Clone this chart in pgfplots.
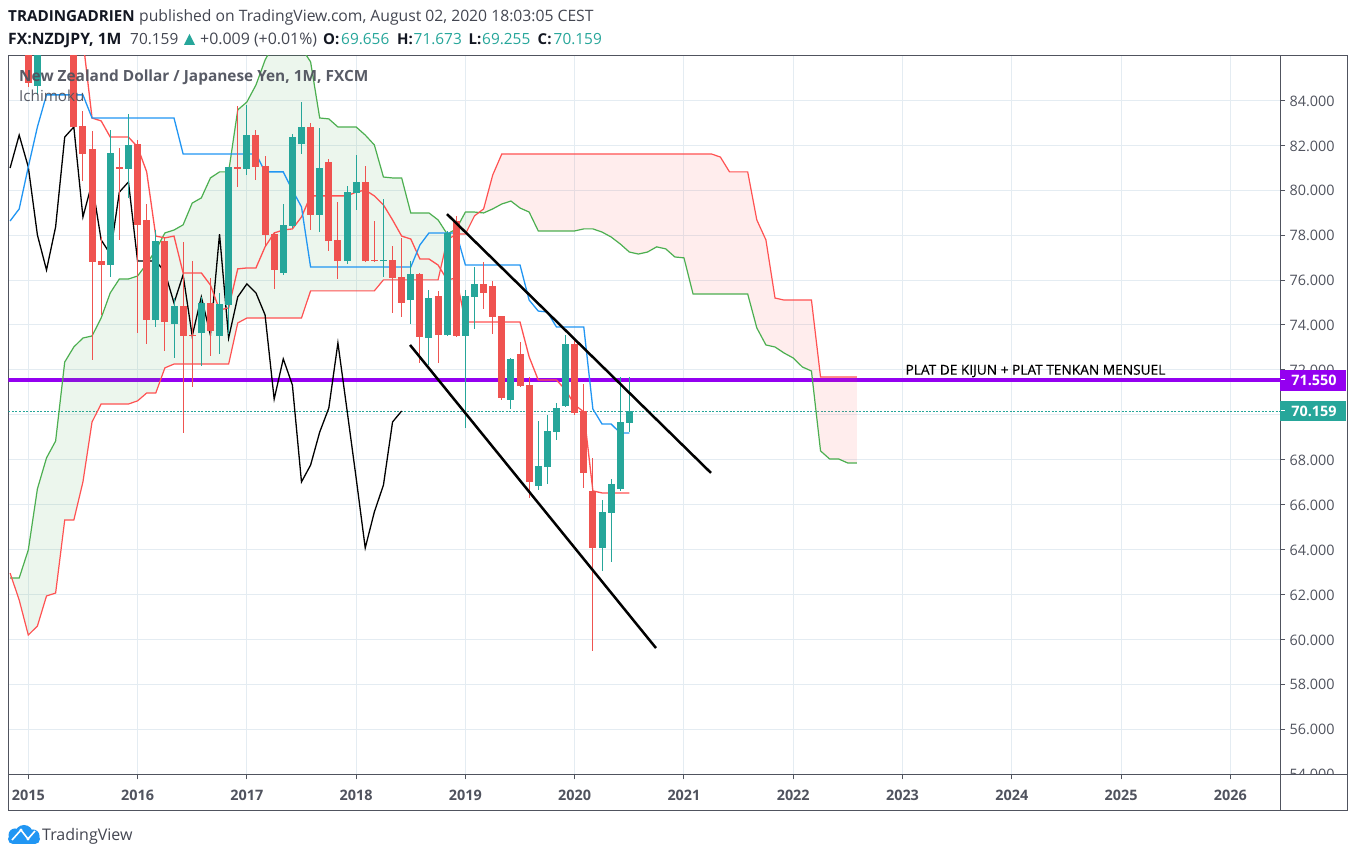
\documentclass[border=0pt]{standalone}
\usepackage{pgfplots}
\pgfplotsset{compat=1.18}
\usepackage{pgfplotstable}
\usepackage{fontspec}
\setmainfont{Open Sans}
\definecolor{tvgreen}{RGB}{38,166,154}
\definecolor{tvred}{RGB}{239,83,80}
\definecolor{tvline}{RGB}{80,83,94}
\definecolor{tvgrid}{RGB}{228,236,242}
\definecolor{tvblue}{RGB}{33,150,243}
\definecolor{tvlinered}{RGB}{255,82,82}
\definecolor{tvlinegreen}{RGB}{76,175,80}
\definecolor{tvpurple}{RGB}{148,0,240}
\definecolor{tvtext}{RGB}{67,70,81}
\definecolor{tvdark}{RGB}{19,23,34}
\newcommand{\fs}[1]{\fontsize{#1}{#1}\selectfont}

\pgfplotstableread{
m high low top bot
1 88 84.25 87.5 84.65
9 82.69 76.14 81.66 76.67
11 83.40 79.66 82.02 80.95
14 78.23 73.91 77.74 74.22
16 75.20 72.53 74.85 74.05
19 75.25 72.17 74.98 73.64
21 75.43 72.71 74.94 73.51
22 81.04 73.60 81.04 74.89
24 83.80 80.68 82.46 80.95
28 79.39 76.23 78.46 76.32
29 82.51 78.32 82.37 78.41
30 83.93 81.62 82.82 82.06
32 82.78 78.14 80.99 78.90
35 80.19 76.72 79.92 76.85
36 81.57 79.12 80.37 79.88
39 79.61 76.14 76.90 76.85
42 76.85 74.05 76.27 75.11
44 75.56 72.22 75.20 73.42
46 78.19 73.51 78.10 73.55
48 75.56 69.41 75.29 73.51
49 76.58 73.82 75.83 75.25
53 72.53 70.26 72.49 70.66
56 69.72 66.65 67.72 66.83
57 69.99 66.92 69.28 67.68
58 70.53 68.88 70.30 69.23
59 73.55 70.35 73.15 70.39
63 66.21 63.04 65.67 64.07
64 67.14 63.44 66.92 65.63
65 71.68 66.61 69.68 66.70
66 71.673 69.255 70.159 69.656
}\upcandles

\pgfplotstableread{
m high low top bot
0 88 84.60 87.5 84.78
5 88 82.80 87.5 82.82
6 83.53 80.41 82.86 81.62
7 82.64 72.44 81.84 76.81
8 77.92 74.45 76.85 76.67
10 81.88 77.79 81.04 80.95
12 82.24 73.64 82.06 78.46
13 79.39 73.15 78.68 74.22
15 77.92 72.84 77.74 74.13
17 77.70 69.19 74.85 73.51
18 76.85 71.24 73.55 73.51
20 76.09 72.62 74.98 73.73
23 83.76 80.15 81.04 80.95
25 82.69 80.46 82.46 81.04
26 81.53 77.48 81.08 78.01
27 78.14 75.60 78.05 76.45
31 83.00 78.23 82.82 78.90
33 81.39 77.30 81.26 77.74
34 79.48 76.05 77.79 76.85
37 81.08 76.81 80.37 76.85
38 78.63 76.81 76.90 76.85
40 77.52 74.54 76.90 76.09
41 77.88 74.36 76.14 74.98
43 76.32 72.31 76.27 73.47
45 75.52 72.31 75.29 73.55
47 78.86 73.47 78.63 73.51
50 76.81 74.71 75.83 75.43
51 75.96 73.60 75.74 74.36
52 74.40 70.66 74.40 70.75
54 73.24 71.24 72.71 71.28
55 71.68 66.30 71.33 67.01
60 73.38 69.99 73.15 70.08
61 71.37 66.74 70.17 67.41
62 68.08 59.48 66.61 64.07
}\downcandles

\pgfplotstableread{
m v
-2 80.99
-1 82.46
0 81.04
1 78.01
2 76.45
3 78.37
4 82.37
5 82.82
6 78.81
7 80.33
8 77.79
9 77.16
10 79.92
11 80.37
12 76.85
13 76.85
14 76.85
15 76.36
16 74.98
17 76.23
18 73.51
19 75.25
20 73.55
21 78.05
22 73.42
23 75.25
24 75.83
25 75.43
26 74.45
27 70.70
28 72.49
29 71.33
30 67.01
31 67.76
32 69.23
33 70.30
34 73.20
35 70.21
36 67.19
37 64.07
38 65.67
39 66.87
40 69.68
41 70.17
}\lagging

\pgfplotstableread{
m v
-2 78.63
-1 79.17
0 81.04
1 82.82
2 84.25
6 84.25
7 83.22
16 83.22
17 81.62
25 81.62
26 80.82
28 80.82
29 80.01
30 79.26
31 76.58
42 76.58
43 77.56
44 78.10
47 78.10
48 76.67
54 76.67
55 75.11
56 74.62
57 74.58
58 73.91
61 73.91
62 70.26
63 69.59
64 69.59
65 69.19
66 69.19
}\conversion

\pgfplotstableread{
m v
6 86.70
7 83.22
8 83.09
9 82.37
11 82.37
12 81.93
13 80.82
14 77.96
15 77.88
16 77.96
17 76.32
19 76.32
20 75.78
21 74.67
22 74.76
23 76.50
24 76.54
25 76.54
26 77.48
27 78.10
28 78.23
29 78.28
30 78.81
31 79.75
35 79.75
36 79.92
37 80.01
38 79.75
39 79.35
40 78.68
41 77.96
42 77.83
43 76.94
44 76.94
45 76.67
46 76.01
47 76.09
48 74.13
54 74.13
55 72.58
56 71.55
58 71.55
59 71.11
60 70.44
61 70.13
62 66.61
63 66.52
66 66.52
}\kijun

\pgfplotstableread{
m v
-2 62.73
-1 62.73
0 63.98
1 66.70
2 68.08
3 68.83
4 72.35
5 73.02
6 73.42
7 73.51
8 74.31
9 75.43
10 76.05
11 76.05
12 76.18
13 76.72
14 77.34
15 78.10
16 78.23
17 78.46
18 79.43
19 79.66
20 80.55
21 80.82
22 80.82
23 83.58
24 83.93
25 84.69
26 85.80
27 86.56
28 86.70
29 86.70
30 86.34
31 85.72
32 83.22
33 83.18
34 82.82
35 82.82
36 82.82
37 82.46
38 82.02
39 80.59
40 80.55
41 80.55
42 78.99
43 78.99
44 78.99
45 78.68
46 78.05
47 78.28
48 79.03
49 79.03
50 78.99
51 79.17
52 79.39
53 79.52
54 79.21
55 79.03
56 78.19
60 78.19
61 78.28
62 78.28
63 78.14
64 77.92
65 77.61
66 77.25
67 77.16
68 77.25
69 77.48
70 77.39
71 77.03
72 76.99
73 75.38
79 75.38
80 73.87
81 73.11
82 73.02
83 72.75
84 72.53
85 72.13
86 71.95
87 68.39
88 68.03
89 68.03
90 67.85
91 67.85
}\spanA

\pgfplotstableread{
m v
-2 62.95
-1 61.75
0 60.19
1 60.59
2 61.93
3 62.06
4 65.31
5 65.31
6 67.01
7 69.68
8 70.48
11 70.48
12 70.62
13 70.97
14 70.97
15 72.09
16 72.26
22 72.26
23 74.09
24 74.31
30 74.31
31 75.52
38 75.52
39 76.01
45 76.01
46 77.79
47 78.05
48 78.05
49 78.86
50 79.17
51 80.68
52 81.62
75 81.62
76 81.48
77 80.82
79 80.82
80 78.68
81 77.79
82 75.20
83 75.11
86 75.11
87 71.68
91 71.68
}\spanB

\begin{document}
\begin{tikzpicture}[x=1pt,y=1pt]
\path[use as bounding box,fill=white] (0,0) rectangle (1356,858);
\begin{axis}[
  at={(8.5pt,83pt)},anchor=south west,
  scale only axis,width=1272pt,height=719.5pt,
  xmin=-2.174,xmax=137.51,ymin=53.956,ymax=86.004,
  xtick={0,12,24,36,48,60,72,84,96,108,120,132},
  xticklabels={2015,2016,2017,2018,2019,2020,2021,2022,2023,2024,2025,2026},
  ytick={54,56,58,60,62,64,66,68,70,72,74,76,78,80,82,84},
  scaled y ticks=false,
  xtick pos=bottom,ytick pos=right,yticklabel pos=right,
  tick align=outside,major tick length=4.5pt,
  tick style={color=tvline,line width=1pt},
  axis line style={color=tvline,line width=1pt},
  grid=major,grid style={color=tvgrid,line width=1pt},
  xticklabel style={font=\bfseries\fs{14.4},text=tvline,yshift=-8pt,inner sep=2pt},
  yticklabel style={font=\fs{14.4},text=tvline,xshift=1pt,yshift=-0.6pt,
    /pgf/number format/.cd,fixed,fixed zerofill,precision=3,1000 sep={},assume math mode=true},
]
% last price and horizontal line
\addplot[color=tvpurple,line width=3.5pt,forget plot] coordinates {(-2.174,71.55) (137.51,71.55)};
\addplot[color=tvgreen,line width=1pt,dash pattern=on 2pt off 1.5pt,forget plot] coordinates {(-2.174,70.159) (137.51,70.159)};
% cloud fills: span A one way, span B the other way
\addplot[fill=tvlinegreen,fill opacity=0.1,draw=none,forget plot] coordinates {
(-2,62.73)(-1,62.73)(0,63.98)(1,66.70)(2,68.08)(3,68.83)(4,72.35)(5,73.02)(6,73.42)(7,73.51)(8,74.31)(9,75.43)(10,76.05)(11,76.05)(12,76.18)(13,76.72)(14,77.34)(15,78.10)(16,78.23)(17,78.46)(18,79.43)(19,79.66)(20,80.55)(21,80.82)(22,80.82)(23,83.58)(24,83.93)(25,84.69)(26,85.80)(27,86.56)(28,86.70)(29,86.70)(30,86.34)(31,85.72)(32,83.22)(33,83.18)(34,82.82)(35,82.82)(36,82.82)(37,82.46)(38,82.02)(39,80.59)(40,80.55)(41,80.55)(42,78.99)(43,78.99)(44,78.99)(45,78.68)(46,78.05)(47,78.28)(48,79.03)(49,79.03)(50,78.99)
(50,79.17)(49,78.86)(48,78.05)(47,78.05)(46,77.79)(45,76.01)(39,76.01)(38,75.52)(31,75.52)(30,74.31)(24,74.31)(23,74.09)(22,72.26)(16,72.26)(15,72.09)(14,70.97)(13,70.97)(12,70.62)(11,70.48)(8,70.48)(7,69.68)(6,67.01)(5,65.31)(4,65.31)(3,62.06)(2,61.93)(1,60.59)(0,60.19)(-1,61.75)(-2,62.95)} -- cycle;
\addplot[fill=tvlinered,fill opacity=0.1,draw=none,forget plot] coordinates {
(50,78.99)(51,79.17)(52,79.39)(53,79.52)(54,79.21)(55,79.03)(56,78.19)(60,78.19)(61,78.28)(62,78.28)(63,78.14)(64,77.92)(65,77.61)(66,77.25)(67,77.16)(68,77.25)(69,77.48)(70,77.39)(71,77.03)(72,76.99)(73,75.38)(79,75.38)(80,73.87)(81,73.11)(82,73.02)(83,72.75)(84,72.53)(85,72.13)(86,71.95)(87,68.39)(88,68.03)(89,68.03)(90,67.85)(91,67.85)
(91,71.68)(87,71.68)(86,75.11)(83,75.11)(82,75.20)(81,77.79)(80,78.68)(79,80.82)(77,80.82)(76,81.48)(75,81.62)(52,81.62)(51,80.68)(50,79.17)} -- cycle;
\addplot[color=tvlinegreen,line width=1.2pt,forget plot] table[x=m,y=v] {\spanA};
\addplot[color=tvlinered,line width=1.2pt,forget plot] table[x=m,y=v] {\spanB};
% ichimoku lines
\addplot[color=black,line width=1.3pt,forget plot] table[x=m,y=v] {\lagging};
\addplot[color=tvlinered,line width=1.3pt,forget plot] table[x=m,y=v] {\kijun};
\addplot[color=tvblue,line width=1.3pt,forget plot] table[x=m,y=v] {\conversion};
% candles: wicks then bodies
\addplot[draw=none,mark=none,forget plot,error bars/.cd,y dir=both,y explicit,error mark=none,
  error bar style={draw=tvgreen,line width=1pt}]
  table[x=m,y=top,y error plus expr=\thisrow{high}-\thisrow{top},y error minus expr=\thisrow{top}-\thisrow{low}] {\upcandles};
\addplot[draw=none,mark=none,forget plot,error bars/.cd,y dir=both,y explicit,error mark=none,
  error bar style={draw=tvred,line width=1pt}]
  table[x=m,y=top,y error plus expr=\thisrow{high}-\thisrow{top},y error minus expr=\thisrow{top}-\thisrow{low}] {\downcandles};
\addplot[draw=none,mark=none,forget plot,error bars/.cd,y dir=plus,y explicit,error mark=none,
  error bar style={draw=tvgreen,line width=7pt}]
  table[x=m,y=bot,y error plus expr=\thisrow{top}-\thisrow{bot}] {\upcandles};
\addplot[draw=none,mark=none,forget plot,error bars/.cd,y dir=plus,y explicit,error mark=none,
  error bar style={draw=tvred,line width=7pt}]
  table[x=m,y=bot,y error plus expr=\thisrow{top}-\thisrow{bot}] {\downcandles};
% trend lines
\addplot[color=black,line width=2.5pt,forget plot] coordinates {(45.98,78.94) (74.97,67.41)};
\addplot[color=black,line width=2.5pt,forget plot] coordinates {(41.92,73.11) (68.93,59.61)};
\node[font=\fs{13.7}\addfontfeatures{FakeBold=0.25},text=black,anchor=center,inner sep=0pt] at (axis cs:110.6,71.95) {PLAT DE KIJUN + PLAT TENKAN MENSUEL};
\end{axis}
% frame parts
\fill[white] (1281,47) rectangle (1347,83);
\draw[color=tvline,line width=1pt] (8.5,83) -- (8.5,47) -- (1347.5,47) -- (1347.5,802.5) -- (1280.5,802.5);
\draw[color=tvline,line width=1pt] (1280.5,83) -- (1347.5,83);
\draw[color=tvline,line width=1pt] (1280.5,47) -- (1280.5,83);
% last-value boxes
\fill[tvpurple] (1280,467) rectangle (1346,488);
\fill[tvgreen] (1280,436.5) rectangle (1346,457);
\draw[white,line width=1pt] (1281,478) -- (1285,478);
\draw[white,line width=1pt] (1281,447) -- (1285,447);
\node[font=\bfseries\fs{14.4},text=white,anchor=center,inner sep=0pt] at (1314,478) {71.550};
\node[font=\bfseries\fs{14.4},text=white,anchor=center,inner sep=0pt] at (1314,447) {70.159};
% headers
\node[anchor=base west,inner sep=0pt,font=\bfseries\fs{15.2},text=tvdark] at (8,836) {TRADINGADRIEN};
\node[anchor=base west,inner sep=0pt,font=\fs{15.7},text=tvtext] at (139,836) {published on TradingView.com, August 02, 2020 18:03:05 CEST};
\node[anchor=base west,inner sep=0pt,font=\bfseries\fs{15.7},text=tvdark] at (8,813) {FX:NZDJPY, 1M};
\node[anchor=base west,inner sep=0pt,font=\fs{15.4},text=tvtext] at (130,813) {70.159};
\fill[tvgreen] (184,813) -- (195,813) -- (189.5,824) -- cycle;
\node[anchor=base west,inner sep=0pt,font=\fs{15.9},text=tvtext] at (200,813) {+0.009 (+0.01\%)};
\node[anchor=base west,inner sep=0pt,font=\bfseries\fs{15},text=tvdark] at (323,813) {O:};
\node[anchor=base west,inner sep=0pt,font=\fs{15.4},text=tvgreen] at (341,813) {69.656};
\node[anchor=base west,inner sep=0pt,font=\bfseries\fs{15},text=tvdark] at (397,813) {H:};
\node[anchor=base west,inner sep=0pt,font=\fs{15.4},text=tvgreen] at (413.5,813) {71.673};
\node[anchor=base west,inner sep=0pt,font=\bfseries\fs{15},text=tvdark] at (468.5,813) {L:};
\node[anchor=base west,inner sep=0pt,font=\fs{15.4},text=tvgreen] at (482,813) {69.255};
\node[anchor=base west,inner sep=0pt,font=\bfseries\fs{15},text=tvdark] at (537.5,813) {C:};
\node[anchor=base west,inner sep=0pt,font=\fs{15.4},text=tvgreen] at (553.5,813) {70.159};
% legend
\node[anchor=base west,inner sep=0pt,font=\bfseries\fs{15.4},text=tvline,opacity=0.95] at (19,776) {New Zealand Dollar / Japanese Yen, 1M, FXCM};
\node[anchor=base west,inner sep=0pt,font=\fs{15.2},text=tvline,opacity=0.95] at (19,756) {Ichimoku};
% logo
\fill[tvblue,rounded corners=5pt] (8,14) -- (8,24) -- (40,24) -- (40,14) -- cycle;
\fill[tvblue] (15,23) circle (6.5) (24,24) circle (9) (33,22) circle (6.5);
\draw[white,line width=1.6pt,line join=round] (12,18) -- (21,28) -- (28,19) -- (35,27);
\fill[white] (21,28) circle (1.6) (28,19) circle (1.6);
\node[anchor=base west,inner sep=0pt,font=\fs{16},text=tvtext] at (42,17.5) {TradingView};
\end{tikzpicture}
\end{document}
